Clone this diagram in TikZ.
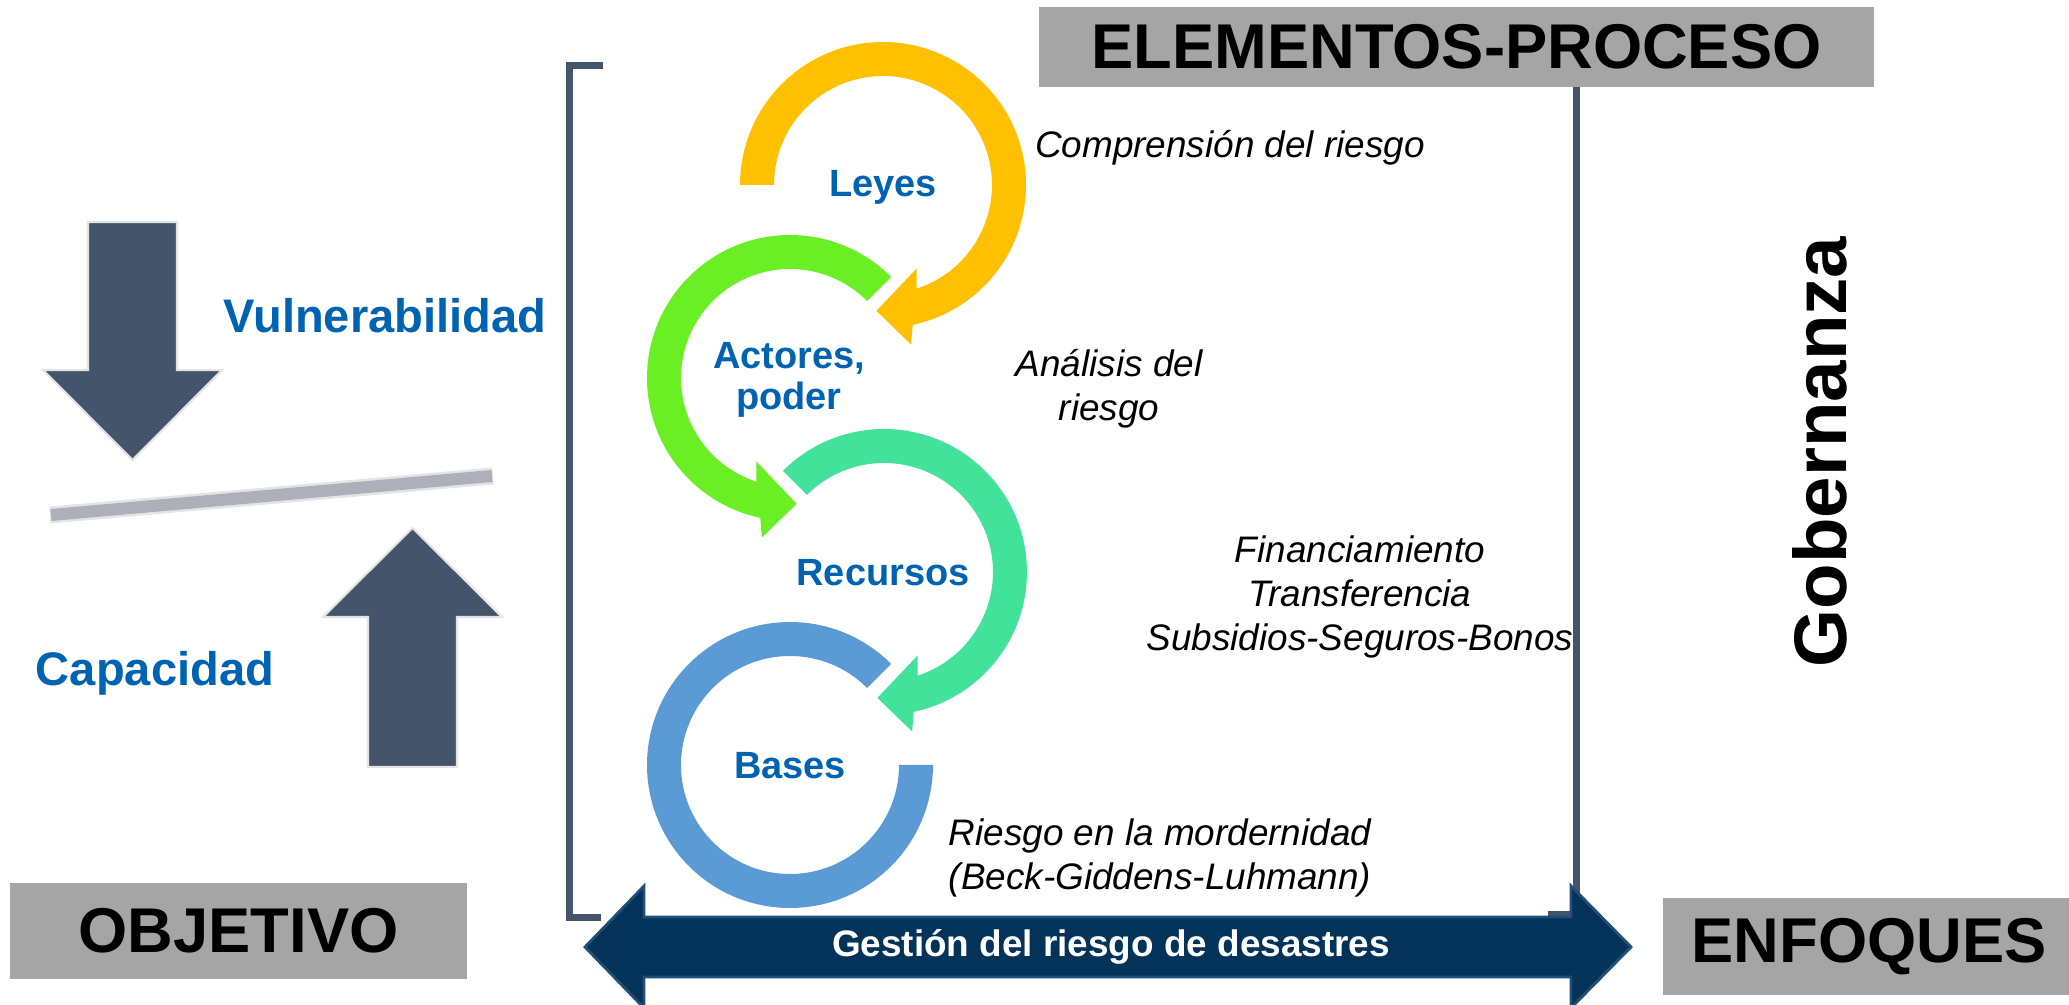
\documentclass[tikz,border=0pt]{standalone}
\usepackage{fontspec}
\setmainfont{Liberation Sans}
\definecolor{boxgray}{RGB}{165,165,165}
\definecolor{slate}{RGB}{68,84,106}
\definecolor{arrowedge}{RGB}{228,228,228}
\definecolor{bargray}{RGB}{173,176,184}
\definecolor{lblue}{RGB}{0,99,177}
\definecolor{navy}{RGB}{3,51,89}
\definecolor{navyedge}{RGB}{31,78,121}
\definecolor{leyescol}{RGB}{255,192,0}
\definecolor{actorcol}{RGB}{106,238,36}
\definecolor{recurcol}{RGB}{67,226,155}
\definecolor{basecol}{RGB}{91,155,213}

\begin{document}
\begin{tikzpicture}[
	boxlabel/.style={fill=boxgray, text=black, inner sep=0pt, font=\fontsize{18}{20}\selectfont\bfseries},
	bluelabel/.style={text=lblue, inner sep=0pt, font=\fontsize{13.4}{15}\selectfont\bfseries},
	ringlabel/.style={text=lblue, inner sep=0pt, align=center, font=\fontsize{10.8}{11.7}\selectfont\bfseries},
	note/.style={inner sep=0pt, align=center, font=\fontsize{10.5}{12.5}\selectfont\itshape},
	bigarrow/.style={fill=slate, draw=arrowedge, line width=0.6pt}]
	\useasboundingbox (0,0) rectangle (20.69,-10.05);

	% left side
	\draw[bigarrow] (0.88,-2.22) -- (1.77,-2.22) -- (1.77,-3.70) -- (2.22,-3.70) -- (1.325,-4.60) -- (0.43,-3.70) -- (0.88,-3.70) -- cycle;
	\draw[bigarrow] (3.68,-7.67) -- (3.68,-6.17) -- (3.23,-6.17) -- (4.125,-5.28) -- (5.02,-6.17) -- (4.57,-6.17) -- (4.57,-7.67) -- cycle;
	\draw[arrowedge, line width=0.17cm] (0.50,-5.15) -- (4.93,-4.76);
	\draw[bargray, line width=0.12cm] (0.51,-5.15) -- (4.92,-4.76);
	\node[bluelabel, anchor=base] (vulner) at (3.85,-3.33) {Vulnerabilidad};
	\node[bluelabel, anchor=base] (capac) at (1.55,-6.85) {Capacidad};
	\node[boxlabel, minimum width=4.57cm, minimum height=0.96cm] (objetivo) at (2.385,-9.31) {OBJETIVO};

	% bracket
	\draw[slate, line width=0.07cm] (6.03,-0.66) -- (5.69,-0.66) -- (5.69,-9.17) -- (6.01,-9.17);
	\draw[slate, line width=0.07cm] (15.42,-0.66) -- (15.76,-0.66) -- (15.76,-9.14) -- (15.48,-9.14);
	\node[boxlabel, minimum width=8.35cm, minimum height=0.80cm] (elementos) at (14.565,-0.47) {ELEMENTOS-PROCESO};

	% rings
	\begin{scope}[shift={(8.83,-1.85)}]
		\fill[leyescol] (180:1.43) arc[start angle=180, end angle=-78, radius=1.43] -- (-80:1.62) -- (-93:1.26) -- (-68:0.90) -- (-72:1.09) arc[start angle=-72, end angle=180, radius=1.09] -- cycle;
	\end{scope}
	\begin{scope}[shift={(7.90,-3.78)}]
		\fill[actorcol] (45:1.43) arc[start angle=45, end angle=258, radius=1.43] -- (260:1.62) -- (273:1.26) -- (248:0.90) -- (252:1.09) arc[start angle=252, end angle=45, radius=1.09] -- cycle;
	\end{scope}
	\begin{scope}[shift={(8.84,-5.72)}]
		\fill[recurcol] (135:1.43) arc[start angle=135, end angle=-78, radius=1.43] -- (-80:1.62) -- (-93:1.26) -- (-68:0.90) -- (-72:1.09) arc[start angle=-72, end angle=135, radius=1.09] -- cycle;
	\end{scope}
	\begin{scope}[shift={(7.90,-7.65)}]
		\fill[basecol] (45:1.43) arc[start angle=45, end angle=360, radius=1.43] -- (0:1.09) arc[start angle=360, end angle=45, radius=1.09] -- cycle;
	\end{scope}
	\node[ringlabel, anchor=base] (leyes) at (8.83,-1.97) {Leyes};
	\node[ringlabel] (actores) at (7.89,-3.80) {Actores,\\poder};
	\node[ringlabel, anchor=base] (recursos) at (8.83,-5.86) {Recursos};
	\node[ringlabel, anchor=base] (bases) at (7.90,-7.79) {Bases};

	% notes
	\node[note, anchor=base] (comprension) at (12.30,-1.58) {Comprensión del riesgo};
	\node[note] (analisis) at (11.09,-3.885) {Análisis del\\riesgo};
	\node[note] (financ) at (13.60,-5.97) {Financiamiento\\Transferencia\\Subsidios-Seguros-Bonos};
	\node[note] (modern) at (11.60,-8.58) {Riesgo en la mordernidad\\(Beck-Giddens-Luhmann)};

	% bottom
	\draw[fill=navy, draw=navyedge, line width=0.8pt] (5.85,-9.47) -- (6.44,-8.86) -- (6.44,-9.17) -- (15.71,-9.17) -- (15.71,-8.86) -- (16.31,-9.47) -- (15.71,-10.08) -- (15.71,-9.77) -- (6.44,-9.77) -- (6.44,-10.08) -- cycle;
	\node[text=white, inner sep=0pt, font=\fontsize{10.5}{12}\selectfont\bfseries] (gestion) at (11.11,-9.47) {Gestión del riesgo de desastres};
	\node[boxlabel, minimum width=4.12cm, minimum height=0.97cm] (enfoques) at (18.69,-9.465) {ENFOQUES};
	\node[rotate=90, inner sep=0pt, font=\fontsize{21.2}{24}\selectfont\bfseries] (gobernanza) at (18.20,-4.52) {Gobernanza};
\end{tikzpicture}
\end{document}
